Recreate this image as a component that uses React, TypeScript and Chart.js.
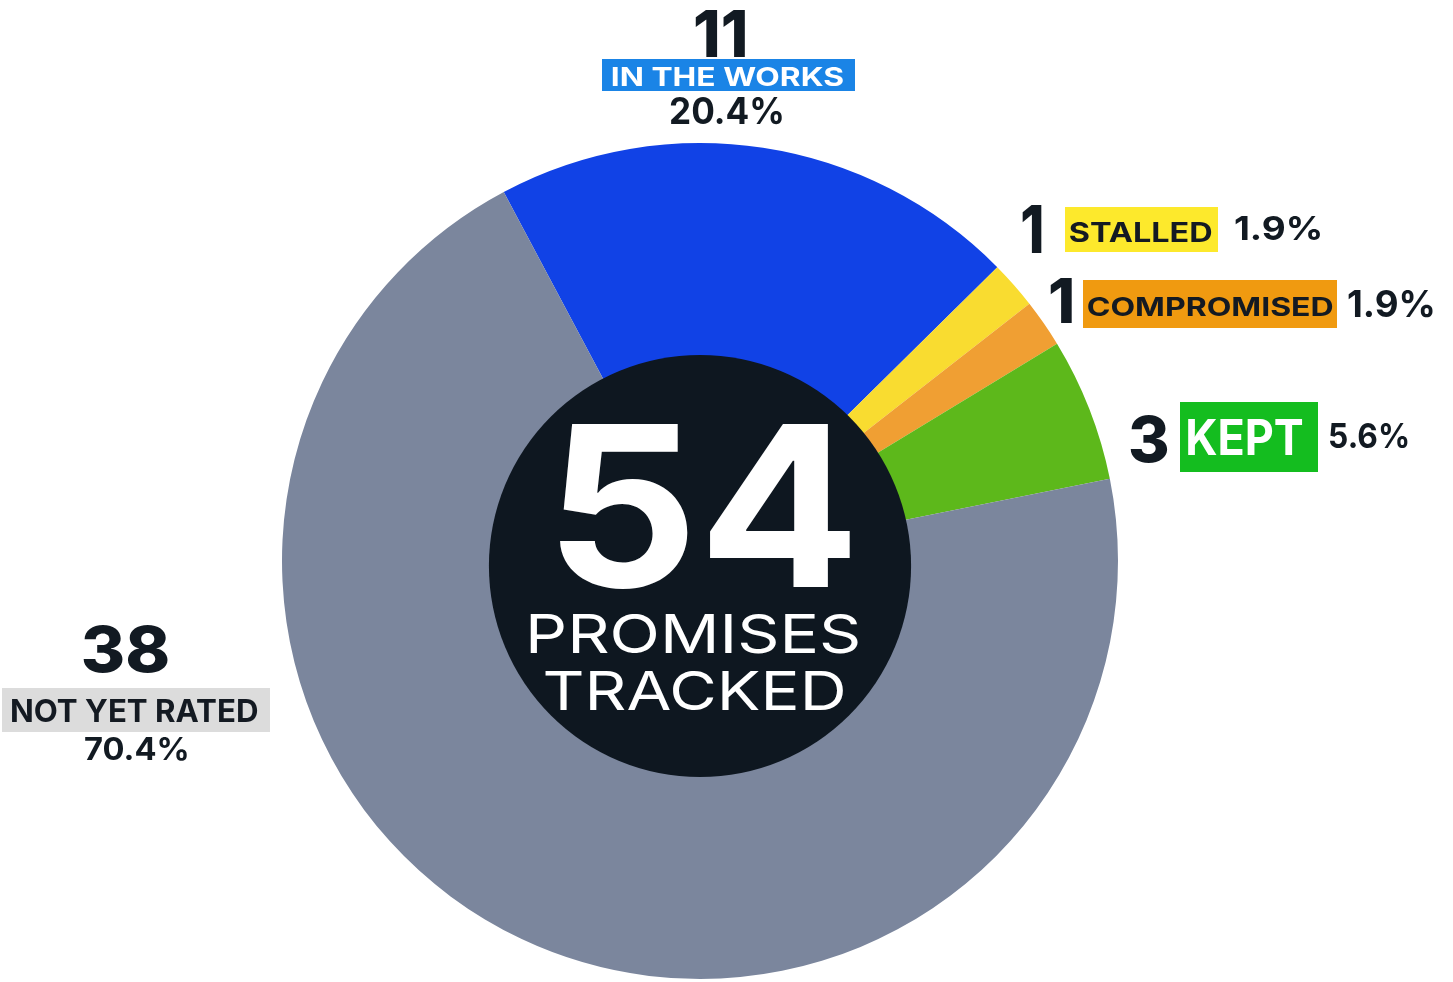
import React, { useEffect, useRef } from "react";
import { Chart, registerables } from "chart.js";

Chart.register(...registerables);

// ---- data ----
const CATEGORIES = ["IN THE WORKS", "STALLED", "COMPROMISED", "KEPT", "NOT YET RATED"];
const COUNTS = [11, 1, 1, 3, 38];
const CENTER_LINES = ["PROMISES", "TRACKED"];

// ---- styles ----
const SLICE_COLORS = ["#1142e6", "#f9dc30", "#f09f33", "#5db81b", "#7b869d"];
const BOX_COLORS = ["#1a84e6", "#fde92c", "#f09a10", "#14bd1f", "#dcdcdc"];
const BOX_TEXT = ["#ffffff", "#141a22", "#141a22", "#ffffff", "#141a22"];
const DARK = "#121a22";
const CENTER_BG = "#0e1720";
const FONT = "Inter";

// ---- label layout: ink boxes [left, top, right, bottom] ----
const LABEL_LAYOUT = [
  { count: [695, 10, 745, 57], box: [602, 59, 855, 91], tag: [612, 67, 843, 86], pct: [670, 97, 782, 124] },
  { count: [1022, 205, 1042, 253], box: [1065, 207, 1218, 252], tag: [1070, 222, 1212, 242], pct: [1235, 215, 1320, 240] },
  { count: [1050, 278, 1072, 323], box: [1083, 280, 1337, 328], tag: [1088, 297, 1333, 316], pct: [1348, 289, 1433, 317] },
  { count: [1130, 415, 1168, 462], box: [1180, 402, 1318, 472], tag: [1188, 419, 1303, 455], pct: [1330, 423, 1408, 448] },
  { count: [83, 625, 168, 672], box: [2, 688, 270, 732], tag: [12, 699, 258, 722], pct: [85, 737, 187, 760] },
];
const CENTER_LAYOUT = {
  total: [560, 423, 850, 587],
  lines: [
    [530, 613, 858, 653],
    [545, 670, 843, 710],
  ],
};

function fitText(
  ctx: CanvasRenderingContext2D,
  text: string,
  box: number[],
  weight: number,
  color: string
) {
  const [l, t, r, b] = box;
  const ref = 100;
  ctx.font = `${weight} ${ref}px ${FONT}`;
  const m0 = ctx.measureText(text);
  const asc0 = m0.actualBoundingBoxAscent;
  const size = (ref * (b - t)) / asc0;
  ctx.font = `${weight} ${size}px ${FONT}`;
  const m = ctx.measureText(text);
  const inkW = m.actualBoundingBoxLeft + m.actualBoundingBoxRight;
  const sx = (r - l) / inkW;
  ctx.save();
  ctx.fillStyle = color;
  ctx.textAlign = "left";
  ctx.textBaseline = "alphabetic";
  ctx.translate(l, b);
  ctx.scale(sx, 1);
  ctx.fillText(text, m.actualBoundingBoxLeft, 0);
  ctx.restore();
}

const labelsPlugin = {
  id: "promiseLabels",
  afterDatasetsDraw(chart: any) {
    const ctx: CanvasRenderingContext2D = chart.ctx;
    const meta = chart.getDatasetMeta(0);
    const arc = meta.data[0];
    if (!arc) return;
    const R = arc.outerRadius;
    const cx = arc.x;
    const cy = arc.y + R * 0.012;
    ctx.save();
    ctx.beginPath();
    ctx.arc(cx, cy, R * 0.505, 0, Math.PI * 2);
    ctx.fillStyle = CENTER_BG;
    ctx.fill();
    ctx.restore();

    const values: number[] = chart.data.datasets[0].data;
    const total = values.reduce((a, v) => a + v, 0);
    fitText(ctx, String(total), CENTER_LAYOUT.total, 700, "#ffffff");
    CENTER_LINES.forEach((line, i) => fitText(ctx, line, CENTER_LAYOUT.lines[i], 400, "#ffffff"));

    chart.data.labels.forEach((label: string, i: number) => {
      const lay = LABEL_LAYOUT[i];
      const v = values[i];
      const pct = ((v / total) * 100).toFixed(1) + "%";
      fitText(ctx, String(v), lay.count, 800, DARK);
      const [bl, bt, br, bb] = lay.box;
      ctx.save();
      ctx.fillStyle = BOX_COLORS[i];
      ctx.fillRect(bl, bt, br - bl, bb - bt);
      ctx.restore();
      fitText(ctx, label, lay.tag, 700, BOX_TEXT[i]);
      fitText(ctx, pct, lay.pct, 700, DARK);
    });
  },
};

export default function App() {
  const ref = useRef<HTMLCanvasElement | null>(null);
  useEffect(() => {
    if (!ref.current) return;
    const chart = new Chart(ref.current, {
      type: "doughnut",
      data: {
        labels: CATEGORIES,
        datasets: [
          {
            data: COUNTS,
            backgroundColor: SLICE_COLORS,
            borderWidth: 0,
          },
        ],
      },
      options: {
        animation: false,
        responsive: true,
        maintainAspectRatio: false,
        rotation: -28,
        cutout: "46%",
        layout: { padding: { top: 143, bottom: 3, left: 282, right: 335 } },
        plugins: {
          legend: { display: false },
          tooltip: { enabled: false },
        },
      },
      plugins: [labelsPlugin],
    });
    return () => chart.destroy();
  }, []);
  return (
    <div style={{ position: "absolute", left: 0, top: 0, width: 1453, height: 982, background: "#ffffff" }}>
      <canvas ref={ref} />
    </div>
  );
}
